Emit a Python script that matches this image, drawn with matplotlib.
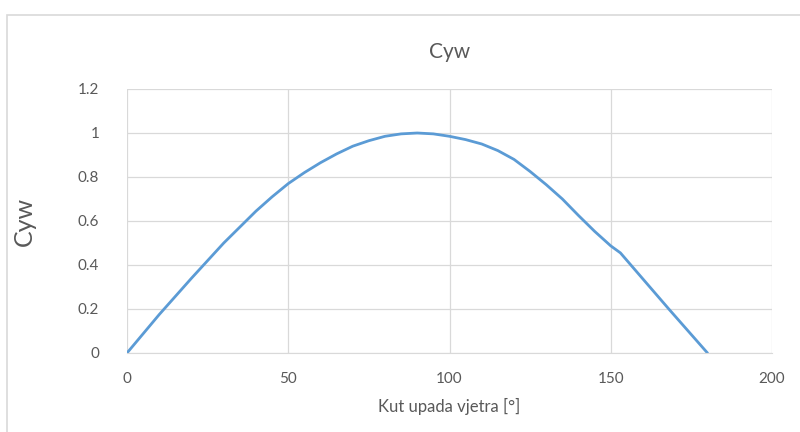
import matplotlib
matplotlib.use("Agg")
import matplotlib.pyplot as plt
from matplotlib.patches import Rectangle

# ── Data ─────────────────────────────────────────────────────────────────────
angle = [0, 10, 20, 30, 40, 45, 50, 55, 60, 65, 70, 75, 80, 85, 90,
         95, 100, 105, 110, 115, 120, 125, 130, 135, 140, 145, 150,
         153, 168, 180]
cyw = [0.0, 0.175, 0.34, 0.50, 0.645, 0.71, 0.77, 0.82, 0.865, 0.905,
       0.94, 0.965, 0.985, 0.996, 1.0, 0.996, 0.985, 0.97, 0.95, 0.92,
       0.88, 0.825, 0.765, 0.70, 0.625, 0.553, 0.487,
       0.455, 0.20, 0.0]

x_ticks = [0, 50, 100, 150, 200]
y_ticks = [0, 0.2, 0.4, 0.6, 0.8, 1, 1.2]
y_labels = ["0", "0.2", "0.4", "0.6", "0.8", "1", "1.2"]

TEXT = "#595959"
GRID = "#d9d9d9"

plt.rcParams["font.family"] = ["Lato", "DejaVu Sans"]

fig = plt.figure(figsize=(8, 4.32), dpi=100)
ax = fig.add_axes([127 / 800, 79 / 432, 645 / 800, 264 / 432])

# outer chart border (only top/left visible in the crop)
fig.patches.append(Rectangle((7 / 800, -0.1), 1.2, 1 - 15 / 432 + 0.1,
                             transform=fig.transFigure, fill=False,
                             edgecolor="#d9d9d9", linewidth=1.2))

ax.plot(angle, cyw, color="#5b9bd5", linewidth=2.0,
        solid_capstyle="round", solid_joinstyle="round")

ax.set_xlim(0, 200)
ax.set_ylim(0, 1.2)
ax.set_xticks(x_ticks)
ax.set_yticks(y_ticks)
ax.set_yticklabels(y_labels)
ax.grid(True, color=GRID, linewidth=0.9)
ax.set_axisbelow(True)
for side in ["top", "right", "left"]:
    ax.spines[side].set_visible(False)
ax.spines["bottom"].set_color(GRID)
ax.tick_params(length=0, colors=TEXT, labelsize=11)
ax.tick_params(axis="x", pad=14)
ax.tick_params(axis="y", pad=20)

ax.set_title("Cyw", color=TEXT, fontsize=15, pad=22)
ax.set_xlabel("Kut upada vjetra [°]", color=TEXT, fontsize=12, labelpad=8)
ax.set_ylabel("Cyw", color=TEXT, fontsize=18, labelpad=30)

fig.savefig("out.png", dpi=100)
